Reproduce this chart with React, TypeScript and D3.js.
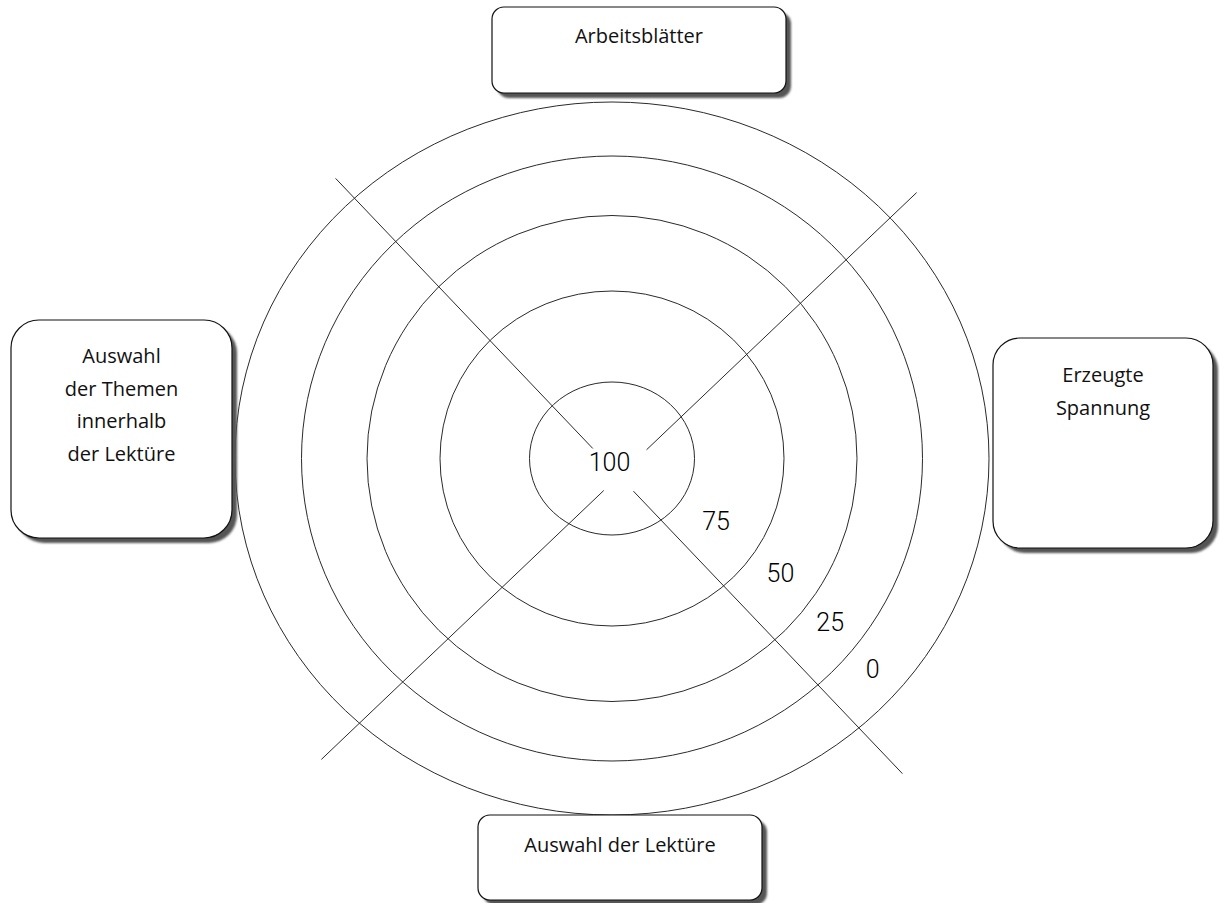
import React, { useEffect, useRef } from 'react'
import * as d3 from 'd3'

// rating bands, from the centre outwards
const bandValues = [100, 75, 50, 25, 0]

// the four criteria, clockwise from the top
const categoryNames = [
  'Arbeitsblätter',
  'Erzeugte Spannung',
  'Auswahl der Lektüre',
  'Auswahl der Themen innerhalb der Lektüre',
]
const categoryLines = [
  ['Arbeitsblätter'],
  ['Erzeugte', 'Spannung'],
  ['Auswahl der Lektüre'],
  ['Auswahl', 'der Themen', 'innerhalb', 'der Lektüre'],
]

export default function App() {
  const ref = useRef<SVGSVGElement>(null)

  useEffect(() => {
    const width = 1220, height = 903
    const cx = 612, cy = 458.5

    const svg = d3.select(ref.current)
      .attr('width', width)
      .attr('height', height)
    svg.selectAll('*').remove()

    // the rings are hand drawn, a little wider than tall
    const rx = d3.scaleLinear().domain(bandValues).range([82.5, 172, 245, 310.5, 377])
    const ry = d3.scaleLinear().domain(bandValues).range([76.5, 167.5, 243, 302.5, 356.5])
    const labelAngle = d3.scaleLinear().domain([75, 0]).range([32, 40])
    const catAngle = d3.scaleLinear().domain([0, categoryNames.length]).range([0, 2 * Math.PI])

    const defs = svg.append('defs')
    defs.append('filter')
      .attr('id', 'shadow')
      .attr('x', '-10%').attr('y', '-10%')
      .attr('width', '130%').attr('height', '130%')
      .append('feGaussianBlur')
      .attr('stdDeviation', 1.1)

    // rings
    svg.append('g')
      .selectAll('ellipse')
      .data(bandValues)
      .enter().append('ellipse')
      .attr('cx', cx)
      .attr('cy', cy)
      .attr('rx', d => rx(d))
      .attr('ry', d => ry(d))
      .attr('fill', 'none')
      .attr('stroke', '#2a2a2a')
      .attr('stroke-width', 1)

    // dividing cross between the criteria, slightly off centre
    const xc = [cx + 7, cy + 17.5]
    const tilt = 1.4 * Math.PI / 180
    const spokes = categoryNames.map((_, i) => {
      const a = catAngle(i + 0.5) + tilt
      const upper = Math.cos(a) > 0
      return {a, r0: upper ? 38 : 21, r1: 411}
    })
    svg.append('g')
      .selectAll('line')
      .data(spokes)
      .enter().append('line')
      .attr('x1', d => xc[0] + d3.pointRadial(d.a, d.r0)[0])
      .attr('y1', d => xc[1] + d3.pointRadial(d.a, d.r0)[1])
      .attr('x2', d => xc[0] + d3.pointRadial(d.a, d.r1)[0])
      .attr('y2', d => xc[1] + d3.pointRadial(d.a, d.r1)[1])
      .attr('stroke', '#2a2a2a')
      .attr('stroke-width', 1)

    // band labels, down the lower right
    svg.append('g')
      .selectAll('text')
      .data(bandValues)
      .enter().append('text')
      .attr('x', (d, i) => {
        if (i === 0) return cx - 2.5
        const prev = bandValues[i - 1]
        const r = rx(prev) + (rx(d) - rx(prev)) * 0.45
        return cx + r * Math.cos(labelAngle(d) * Math.PI / 180)
      })
      .attr('y', (d, i) => {
        if (i === 0) return cy + 3.5
        const prev = bandValues[i - 1]
        const r = ry(prev) + (ry(d) - ry(prev)) * 0.45
        return cy + r * Math.sin(labelAngle(d) * Math.PI / 180)
      })
      .attr('dy', '0.36em')
      .attr('text-anchor', 'middle')
      .style('font-family', 'Roboto, "Liberation Sans", Arial, sans-serif')
      .style('font-weight', 300)
      .style('font-size', '25px')
      .attr('fill', '#000')
      .text(d => d)

    // criteria boxes around the target
    const boxes = [
      {w: 294, h: 86, shift: 27, gap: 9, r: 12, pad: 36},
      {w: 220, h: 210, shift: -15.5, gap: 4, r: 27, pad: 44},
      {w: 284, h: 85, shift: 8, gap: 0, r: 12, pad: 37},
      {w: 221, h: 218, shift: -29.5, gap: 3, r: 28, pad: 43},
    ].map((b, i) => {
      const a = catAngle(i)
      const s = Math.sin(a), c = Math.cos(a)
      const ax = cx + s * rx(0), ay = cy - c * ry(0)
      const ext = b.gap + Math.abs(s) * b.w / 2 + Math.abs(c) * b.h / 2
      const mx = ax + s * ext + Math.abs(c) * b.shift
      const my = ay - c * ext + Math.abs(s) * b.shift
      return {...b, x: mx - b.w / 2, y: my - b.h / 2, lines: categoryLines[i]}
    })

    const box = svg.append('g')
      .selectAll('g')
      .data(boxes)
      .enter().append('g')

    box.append('rect')
      .attr('x', d => d.x + 5)
      .attr('y', d => d.y + 5)
      .attr('width', d => d.w)
      .attr('height', d => d.h)
      .attr('rx', d => d.r)
      .attr('fill', '#555')
      .attr('filter', 'url(#shadow)')

    box.append('rect')
      .attr('x', d => d.x)
      .attr('y', d => d.y)
      .attr('width', d => d.w)
      .attr('height', d => d.h)
      .attr('rx', d => d.r)
      .attr('fill', '#fff')
      .attr('stroke', '#111')
      .attr('stroke-width', 1.2)

    box.append('text')
      .attr('text-anchor', 'middle')
      .style('font-family', '"Open Sans", "Noto Sans", sans-serif')
      .style('font-size', '20px')
      .attr('fill', '#111')
      .selectAll('tspan')
      .data(d => d.lines.map((t, j) => ({t, x: d.x + d.w / 2, y: d.y + d.pad + j * 32.5})))
      .enter().append('tspan')
      .attr('x', d => d.x)
      .attr('y', d => d.y)
      .text(d => d.t)
  }, [])

  return (
    <svg ref={ref} style={{position: 'absolute', left: 0, top: 0, display: 'block', background: '#fff'}} />
  )
}
